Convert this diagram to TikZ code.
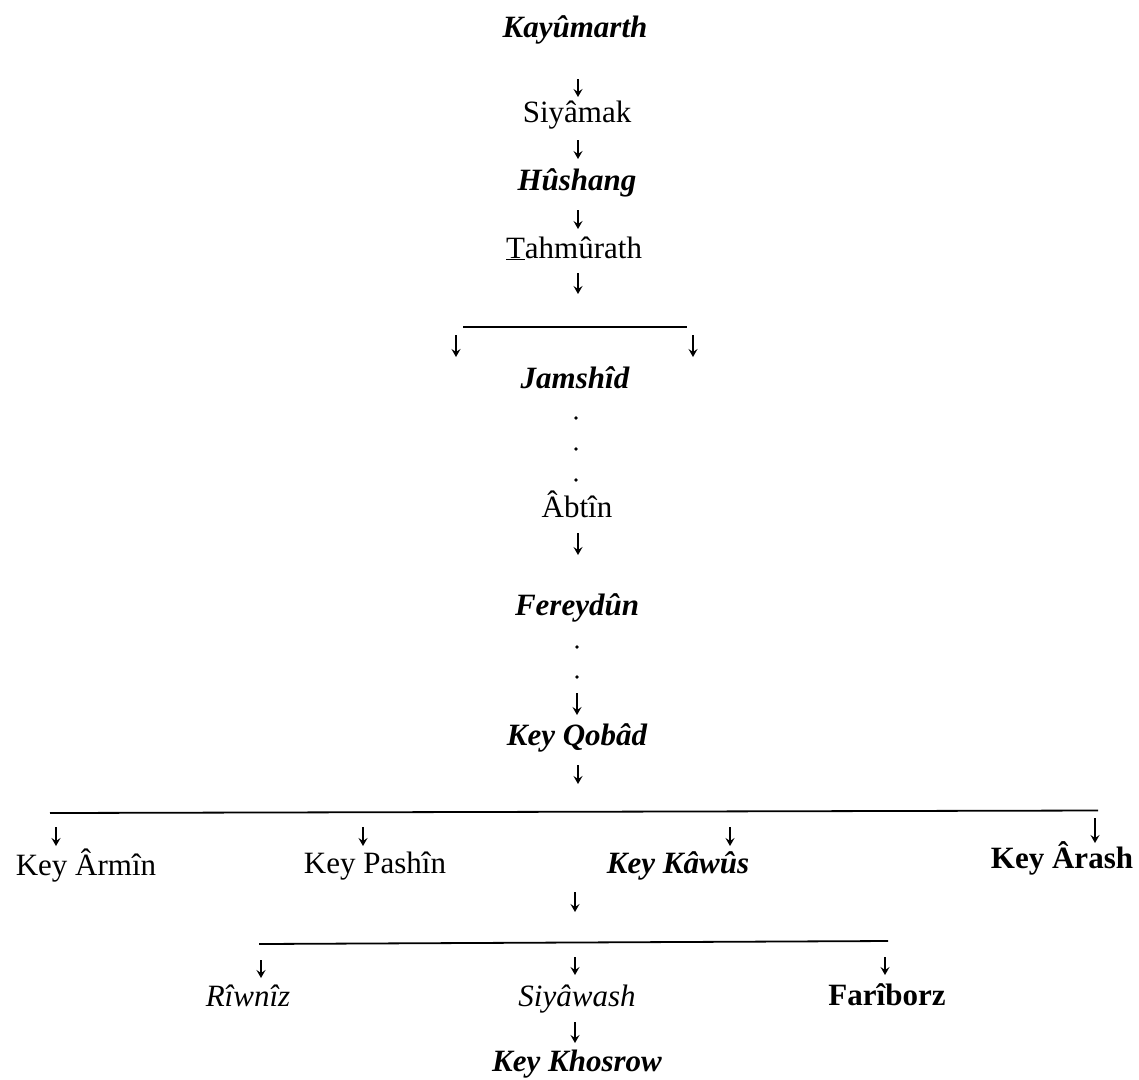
\documentclass[tikz,border=0pt]{standalone}
\usepackage{fontspec}
\setmainfont{Liberation Serif}
\usetikzlibrary{arrows.meta}
\newcommand{\gfont}{\fontsize{31}{37}\selectfont}
\begin{document}
\begin{tikzpicture}[x=1pt,y=-1pt,
  every node/.style={inner sep=0pt, anchor=base, font=\gfont},
  bi/.style={font=\gfont\bfseries\itshape},
  it/.style={font=\gfont\itshape},
  bf/.style={font=\gfont\bfseries},
  arr/.style={line width=1.5pt, -{Stealth[length=8pt,width=9pt,inset=3pt]}},
  bar/.style={line width=1.8pt},
  dot/.style={circle, fill, inner sep=0pt, minimum size=3.6pt, anchor=center}]
\useasboundingbox (0,0) rectangle (1139,1079);
% names
\node[bi] (kay) at (575,37) {Kayûmarth};
\node (siy) at (577,122) {Siyâmak};
\node[bi] (hus) at (577,190) {Hûshang};
\node (tah) at (574,258) {\underline{T}ahmûrath};
\node[bi] (jam) at (575,388) {Jamshîd};
\node (abt) at (577,517) {Âbtîn};
\node[bi] (fer) at (577,615) {Fereydûn};
\node[bi] (qob) at (577,745) {Key Qobâd};
\node (arm) at (86,875) {Key Ârmîn};
\node (pas) at (375,873) {Key Pashîn};
\node[bi] (kaw) at (678,873) {Key Kâwûs};
\node[bf] (ara) at (1062,868) {Key Ârash};
\node[it] (riw) at (248,1006) {Rîwnîz};
\node[it] (syw) at (577,1006) {Siyâwash};
\node[bf] (far) at (887,1005) {Farîborz};
\node[bi] (kho) at (577,1071) {Key Khosrow};
% branch bars
\coordinate (b1l) at (463,327);
\coordinate (b1r) at (687,327);
\coordinate (b2l) at (50,813);
\coordinate (b2r) at (1098,810.5);
\coordinate (b3l) at (259,944);
\coordinate (b3r) at (888,941);
\draw[bar] (b1l) -- (b1r);
\draw[bar] (b2l) -- (b2r);
\draw[bar] (b3l) -- (b3r);
% descent arrows
\draw[arr] (kay.base) ++(3,42) -- ++(0,18);
\draw[arr] (siy.base) ++(1,18) -- ++(0,19);
\draw[arr] (hus.base) ++(1,20) -- ++(0,19);
\draw[arr] (tah.base) ++(4,15) -- ++(0,21);
\draw[arr] (b1l) ++(-7,8) -- ++(0,22);
\draw[arr] (b1r) ++(6,8) -- ++(0,22);
\path (jam.base) ++(1,30) node[dot] (d1) {} ++(0,31) node[dot] (d2) {} ++(0,31) node[dot] (d3) {};
\draw[arr] (abt.base) ++(1,16) -- ++(0,22);
\path (fer.base) ++(0,32) node[dot] (d4) {} ++(0,30) node[dot] (d5) {};
\draw[arr] (fer.base) ++(0,78) -- ++(0,22);
\draw[arr] (qob.base) ++(1,20) -- ++(0,19);
\draw[arr] (arm.base) ++(-30,-48) -- ++(0,19);
\draw[arr] (pas.base) ++(-12,-46) -- ++(0,19);
\draw[arr] (kaw.base) ++(52,-46) -- ++(0,19);
\draw[arr] (ara.base) ++(33,-50) -- ++(0,25);
\draw[arr] (kaw.base) ++(-103,19) -- ++(0,20);
\draw[arr] (riw.base) ++(13,-46) -- ++(0,18);
\draw[arr] (syw.base) ++(-2,-49) -- ++(0,18);
\draw[arr] (far.base) ++(-2,-48) -- ++(0,18);
\draw[arr] (syw.base) ++(-2,16) -- ++(0,21);
\end{tikzpicture}
\end{document}
